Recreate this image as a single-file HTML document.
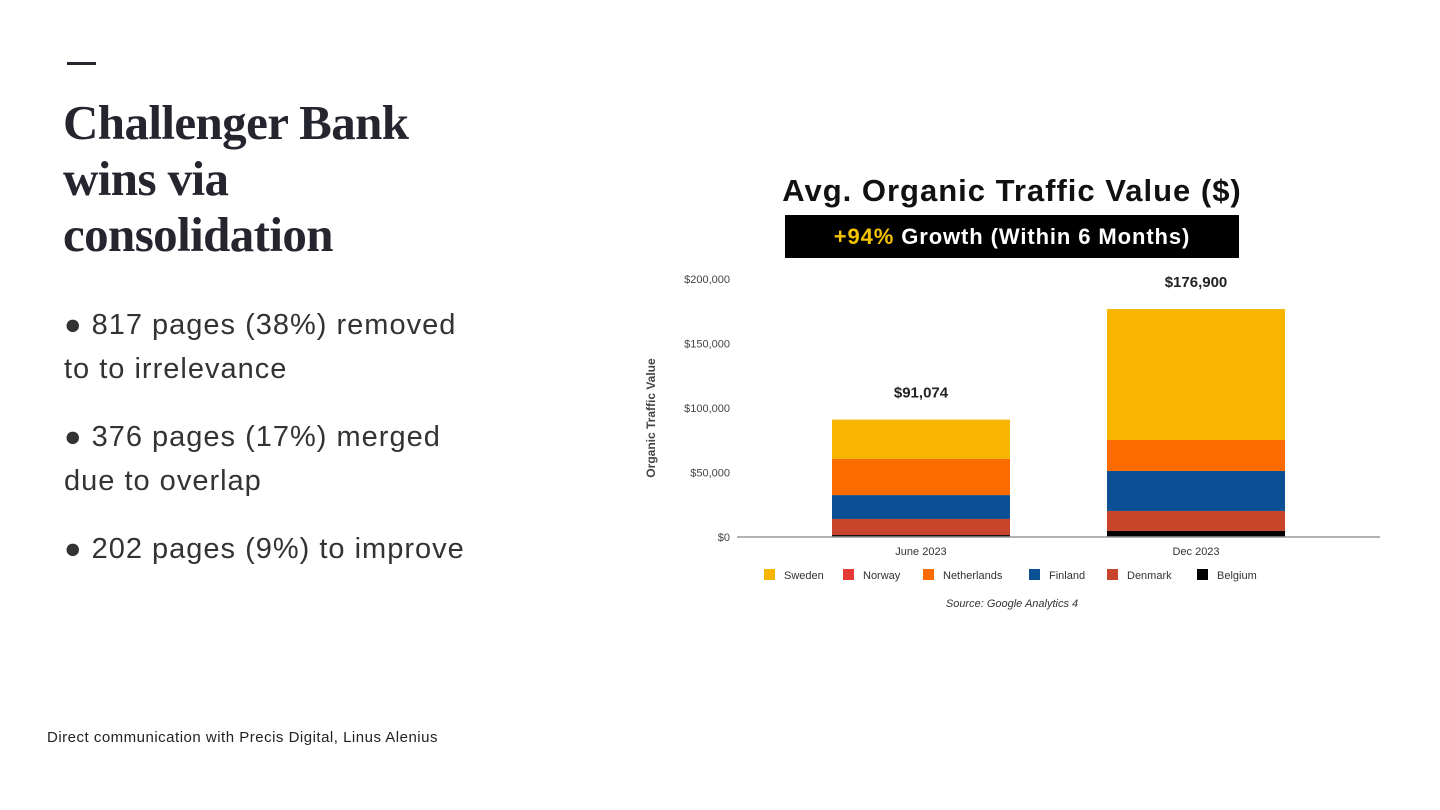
<!DOCTYPE html>
<html><head><meta charset="utf-8">
<style>
body{margin:0;width:1440px;height:810px;background:#fff;position:relative;overflow:hidden;font-family:"Liberation Sans",sans-serif}
.abs{position:absolute}
#title{left:63px;top:95px;font-family:"Liberation Serif",serif;font-weight:bold;font-size:49px;line-height:56px;color:#25252f;letter-spacing:-0.6px}
.bul{left:64px;font-size:29px;line-height:44px;color:#333;letter-spacing:1px}
</style></head><body>
<div class="abs" style="left:67px;top:62px;width:29px;height:3px;background:#25252f"></div>
<div id="title" class="abs">Challenger Bank<br>wins via<br>consolidation</div>
<div class="abs bul" style="top:303px">● 817 pages (38%) removed<br>to to irrelevance</div>
<div class="abs bul" style="top:415px">● 376 pages (17%) merged<br>due to overlap</div>
<div class="abs bul" style="top:527px">● 202 pages (9%) to improve</div>
<div class="abs" style="left:47px;top:729px;font-size:15px;color:#222;letter-spacing:0.5px">Direct communication with Precis Digital, Linus Alenius</div>

<svg class="abs" style="left:0;top:0" width="1440" height="810">
<text x="1012" y="201" text-anchor="middle" font-size="31" font-weight="bold" fill="#111" letter-spacing="1">Avg. Organic Traffic Value ($)</text>
<rect x="785" y="215" width="454" height="43" fill="#000"/>
<text x="1012" y="244" text-anchor="middle" font-size="22" font-weight="bold" fill="#fff" letter-spacing="0.9"><tspan fill="#f5c400">+94%</tspan> Growth (Within 6 Months)</text>
<text transform="translate(655,418) rotate(-90)" text-anchor="middle" font-size="12" font-weight="bold" fill="#444">Organic Traffic Value</text>
<g id="ticks"></g><g id="bars"></g><g id="legend"></g>
<line x1="737" y1="537" x2="1380" y2="537" stroke="#999" stroke-width="1.5"/>
<text x="1012" y="607" text-anchor="middle" font-size="11" font-style="italic" fill="#333">Source: Google Analytics 4</text>
</svg>
<script>
const categories=["June 2023","Dec 2023"];
const totals=["$91,074","$176,900"];
const series=["Belgium","Denmark","Norway","Finland","Netherlands","Sweden"];
const belgium=[1.5,4.7];
const denmark=[12.5,15.5];
const norway=[0,0];
const finland=[18.5,31];
const netherlands=[28,24];
const sweden=[30.5,101.5];
const yTicks=[0,50,100,150,200];
const yTickLabels=["$0","$50,000","$100,000","$150,000","$200,000"];
const legendOrder=["Sweden","Norway","Netherlands","Finland","Denmark","Belgium"];
const colors={Sweden:"#f7b500",Norway:"#e53935",Netherlands:"#fb6b00",Finland:"#0b4f94",Denmark:"#c8442a",Belgium:"#000"};
const NS="http://www.w3.org/2000/svg";
const y=v=>537-v*1.29;
const xc=i=>921+i*275;
const bw=178;
const vals={Belgium:belgium,Denmark:denmark,Norway:norway,Finland:finland,Netherlands:netherlands,Sweden:sweden};
function mk(t,a,p){const e=document.createElementNS(NS,t);for(const k in a)e.setAttribute(k,a[k]);p.appendChild(e);return e;}
const tg=document.getElementById('ticks');
yTicks.forEach((v,i)=>{const t=mk('text',{x:730,y:y(v)+4,'text-anchor':'end','font-size':11,fill:'#444'},tg);t.textContent=yTickLabels[i];

});
const bg=document.getElementById('bars');
categories.forEach((c,i)=>{let acc=0;
series.forEach(s=>{const v=vals[s][i];if(v<=0)return;const r=mk('rect',{x:xc(i)-bw/2,y:y(acc+v),width:bw,height:v*1.29,fill:colors[s]},bg);

acc+=v;});
const tl=mk('text',{x:xc(i),y:y(acc)-22,'text-anchor':'middle','font-size':15,'font-weight':'bold',fill:'#222'},bg);tl.textContent=totals[i];


const xl=mk('text',{x:xc(i),y:555,'text-anchor':'middle','font-size':11,fill:'#333'},bg);xl.textContent=c;

});
const lg=document.getElementById('legend');
const lx=[764,843,923,1029,1107,1197];
legendOrder.forEach((s,i)=>{const r=mk('rect',{x:lx[i],y:569,width:11,height:11,fill:colors[s]},lg);


const t=mk('text',{x:lx[i]+20,y:579,'font-size':11,fill:'#333'},lg);t.textContent=s;

});
</script>
</body></html>
